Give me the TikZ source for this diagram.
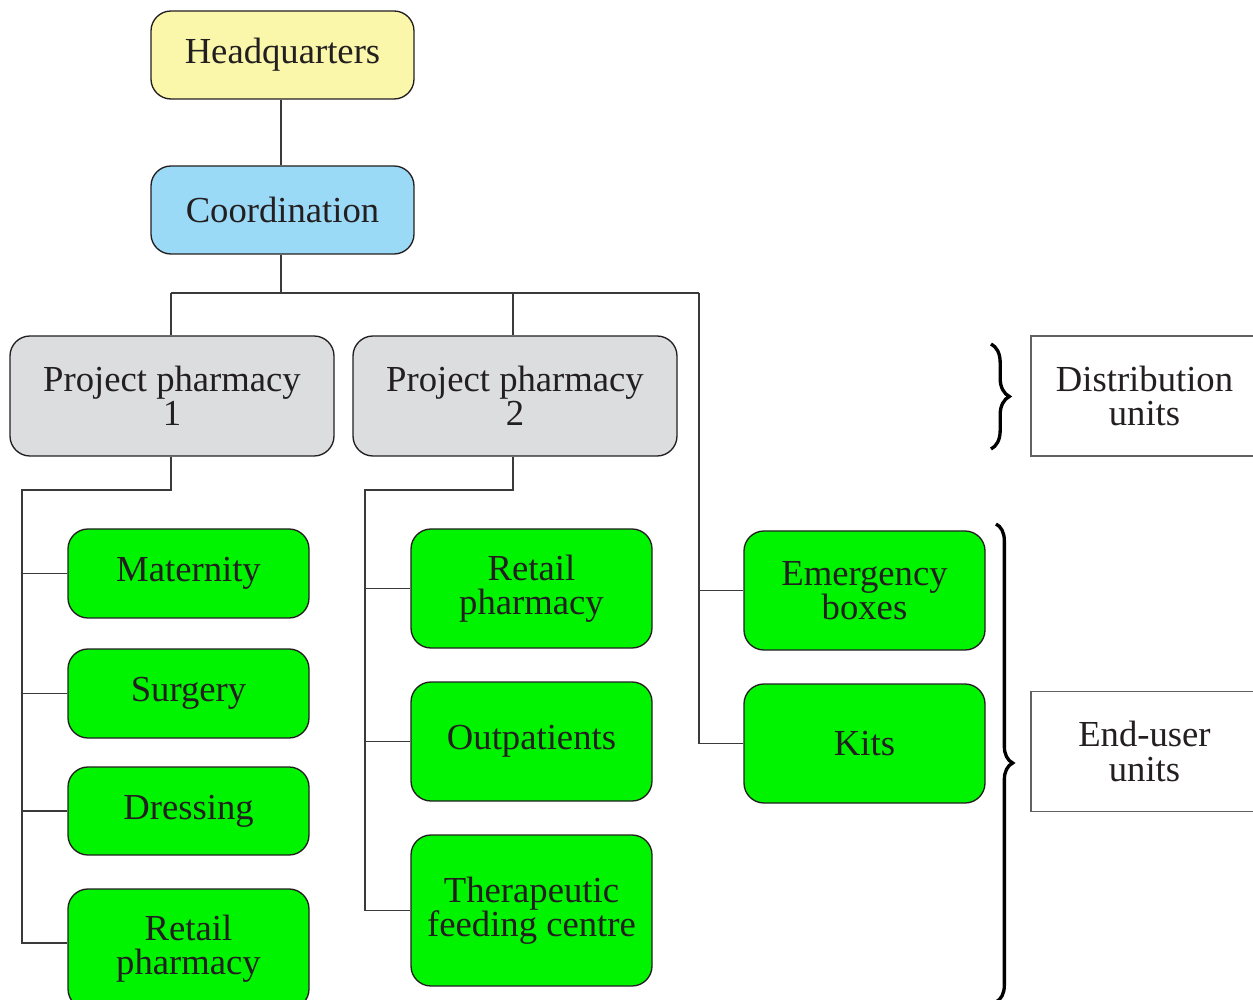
\documentclass[tikz,border=0pt]{standalone}
\usepackage{fontspec}
\setmainfont{Liberation Serif}
\usetikzlibrary{decorations.pathreplacing}
\definecolor{hqfill}{HTML}{FAF7AB}
\definecolor{cofill}{HTML}{9ADAF6}
\definecolor{ppfill}{HTML}{DCDDDF}
\definecolor{unitfill}{HTML}{00F400}
\definecolor{ink}{HTML}{231F20}
\definecolor{wire}{HTML}{3A3A3A}
\tikzset{
  box/.style={draw=ink, line width=0.4pt, rounded corners=6pt, align=center,
    text=ink, inner sep=0pt, font=\fontsize{11}{10.3}\selectfont},
  hqbox/.style={box, fill=hqfill, minimum width=78.9pt, minimum height=26.4pt},
  cobox/.style={box, fill=cofill, minimum width=78.9pt, minimum height=26.4pt},
  ppbox/.style={box, fill=ppfill, minimum width=97.2pt, minimum height=36pt},
  unitbox/.style={box, fill=unitfill, minimum width=72.3pt},
  legendbox/.style={draw=wire!80, line width=0.4pt, align=center, text=ink,
    inner sep=0pt, minimum width=68.1pt, minimum height=36pt,
    font=\fontsize{11}{10.3}\selectfont},
  wireline/.style={draw=wire, line width=0.4pt},
  bracket/.style={draw=black, line width=1pt,
    decorate, decoration={brace, amplitude=#1}},
}
\begin{document}
\begin{tikzpicture}[x=0.3pt, y=-0.3pt]
\useasboundingbox (0,0) rectangle (1253,1000);

% top of the hierarchy
\node[hqbox] (hq) at (282.5,55) {Headquarters};
\node[cobox] (co) at (282.5,210) {Coordination};

% distribution level
\node[ppbox] (pp1) at (172,396) {Project pharmacy\\1};
\node[ppbox] (pp2) at (515,396) {Project pharmacy\\2};

% end-user units under pharmacy 1
\node[unitbox, minimum height=26.7pt] (mat) at (188.5,573.5) {Maternity};
\node[unitbox, minimum height=26.7pt] (sur) at (188.5,693.5) {Surgery};
\node[unitbox, minimum height=26.4pt] (dre) at (188.5,811) {Dressing};
\node[unitbox, minimum height=36pt] (ret1) at (188.5,949) {Retail\\pharmacy};

% end-user units under pharmacy 2
\node[unitbox, minimum height=35.7pt] (ret2) at (531.5,588.5) {Retail\\pharmacy};
\node[unitbox, minimum height=35.7pt] (out) at (531.5,741.5) {Outpatients};
\node[unitbox, minimum height=45.3pt] (the) at (531.5,910.5) {Therapeutic\\feeding centre};

% end-user units directly under coordination
\node[unitbox, minimum height=35.7pt] (eme) at (864.5,590.5) {Emergency\\boxes};
\node[unitbox, minimum height=35.7pt] (kit) at (864.5,743.5) {Kits};

% level labels
\node[legendbox] (dist) at (1144.5,396) {Distribution\\units};
\node[legendbox] (endu) at (1144.5,751.5) {End-user\\units};

% connectors
\coordinate (busL) at (171,293);
\coordinate (busR) at (699,293);
\coordinate (tr1) at (22,490);
\coordinate (tr2) at (365,490);

\path[wireline] (hq.south -| 281,0) -- (co.north -| 281,0);
\path[wireline] (co.south -| 281,0) -- (busL -| 281,0);
\path[wireline] (busL) -- (busR);
\path[wireline] (busL) -- (busL |- pp1.north);
\path[wireline] (busL -| 513,0) -- (pp2.north -| 513,0);
\path[wireline] (busR) |- (kit.west);
\path[wireline] (busR |- eme.west) -- (eme.west);

\path[wireline] (pp1.south -| busL) |- (tr1) -- (22,943) -- (ret1.west |- 0,943);
\path[wireline] (tr1 |- mat.west) -- (mat.west);
\path[wireline] (tr1 |- sur.west) -- (sur.west);
\path[wireline] (tr1 |- dre.west) -- (dre.west);

\path[wireline] (pp2.south -| 513,0) |- (tr2) |- (the.west);
\path[wireline] (tr2 |- ret2.west) -- (ret2.west);
\path[wireline] (tr2 |- out.west) -- (out.west);

% braces grouping the levels
\coordinate (b1t) at (991,344);
\coordinate (b1b) at (991,449);
\coordinate (b2t) at (996,524);
\coordinate (b2b) at (996,1002);
\draw[bracket=5.5pt] (b1t) -- (b1b);
\draw[bracket=5pt] (b2t) -- (b2b);
\end{tikzpicture}
\end{document}
